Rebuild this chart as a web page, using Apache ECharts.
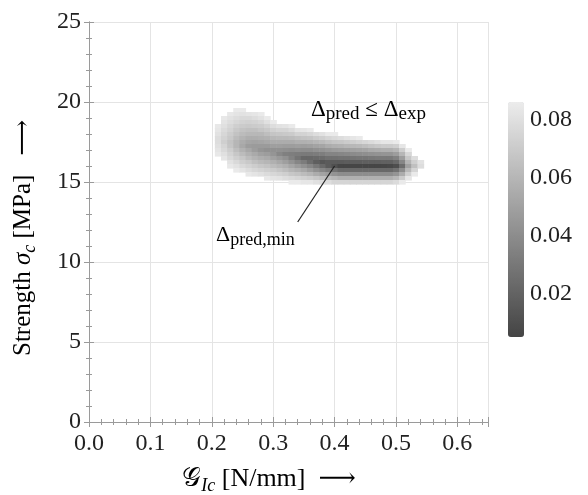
<!DOCTYPE html>
<html>
<head>
<meta charset="utf-8">
<script src="https://cdn.jsdelivr.net/npm/echarts@6/dist/echarts.min.js"></script>
<style>
html, body { margin: 0; padding: 0; background: #fff; }
#main { width: 588px; height: 495px; }
</style>
</head>
<body>
<div id="main"></div>
<script>
var chartDom = document.getElementById('main');
var myChart = echarts.init(chartDom);
var option;

var _ = null;

// grid columns: fracture toughness G_Ic [N/mm]
var toughness = [0.21, 0.22, 0.23, 0.24, 0.25, 0.26, 0.27, 0.28, 0.29, 0.30, 0.31, 0.32,
    0.33, 0.34, 0.35, 0.36, 0.37, 0.38, 0.39, 0.40, 0.41, 0.42, 0.43, 0.44, 0.45, 0.46,
    0.47, 0.48, 0.49, 0.50, 0.51, 0.52, 0.53, 0.54];

// grid rows: strength sigma_c [MPa], top to bottom
var strength = [19.5, 19.25, 19.0, 18.75, 18.5, 18.25, 18.0, 17.75, 17.5, 17.25, 17.0,
    16.75, 16.5, 16.25, 16.0, 15.75, 15.5, 15.25, 15.0];

// Delta_pred for each row (blank where Delta_pred > Delta_exp)
var deltaPred = [
    [_, _, _, .085, .085, _, _, _, _, _, _, _, _, _, _, _, _, _, _, _, _, _, _, _, _, _, _, _, _, _, _, _, _, _],
    [_, _, .084, .082, .081, .082, .083, .085, _, _, _, _, _, _, _, _, _, _, _, _, _, _, _, _, _, _, _, _, _, _, _, _, _, _],
    [_, .084, .081, .079, .077, .077, .079, .081, .085, _, _, _, _, _, _, _, _, _, _, _, _, _, _, _, _, _, _, _, _, _, _, _, _, _],
    [_, .082, .079, .076, .074, .073, .074, .076, .080, .085, _, _, _, _, _, _, _, _, _, _, _, _, _, _, _, _, _, _, _, _, _, _, _, _],
    [.084, .080, .076, .072, .070, .069, .070, .071, .074, .079, .081, .082, .085, _, _, _, _, _, _, _, _, _, _, _, _, _, _, _, _, _, _, _, _, _],
    [.083, .078, .074, .069, .066, .065, .065, .067, .069, .073, .075, .075, .078, .082, .083, .085, _, _, _, _, _, _, _, _, _, _, _, _, _, _, _, _, _, _],
    [.081, .076, .071, .066, .063, .061, .061, .061, .064, .067, .068, .069, .070, .074, .074, .076, .079, .081, .085, .085, _, _, _, _, _, _, _, _, _, _, _, _, _, _],
    [.079, .074, .069, .063, .059, .056, .056, .057, .058, .061, .062, .062, .063, .065, .066, .067, .070, .072, .075, .077, .079, .081, .083, .085, _, _, _, _, _, _, _, _, _, _],
    [.079, .072, .066, .060, .055, .052, .051, .052, .053, .055, .055, .055, .055, .057, .057, .058, .060, .062, .065, .067, .068, .070, .072, .074, .076, .078, .080, .083, .083, .085, _, _, _, _],
    [.080, .075, .067, .060, .053, .048, .047, .047, .047, .049, .049, .048, .048, .049, .048, .049, .051, .052, .055, .057, .058, .060, .061, .062, .064, .066, .068, .070, .070, .072, .083, _, _, _],
    [.082, .077, .071, .064, .058, .053, .048, .044, .042, .042, .042, .041, .040, .041, .040, .040, .042, .043, .045, .047, .048, .049, .050, .051, .052, .054, .055, .057, .057, .060, .071, .085, _, _],
    [.084, .080, .074, .068, .063, .058, .054, .050, .048, .044, .038, .034, .033, .032, .031, .031, .032, .033, .036, .036, .037, .038, .039, .040, .041, .042, .043, .044, .044, .048, .060, .076, _, _],
    [_, .083, .077, .072, .068, .063, .059, .056, .054, .050, .046, .042, .035, .028, .022, .022, .023, .024, .026, .026, .027, .027, .028, .029, .029, .030, .031, .031, .031, .035, .048, .068, .079, _],
    [_, _, .081, .077, .072, .069, .065, .062, .060, .057, .053, .049, .043, .037, .032, .025, .018, .014, .016, .016, .016, .017, .017, .017, .018, .018, .018, .019, .019, .023, .037, .059, .072, .081],
    [_, _, .084, .081, .077, .074, .071, .068, .066, .063, .060, .057, .052, .047, .042, .037, .030, .023, .016, .011, .006, .006, .006, .006, .006, .006, .006, .006, .007, .010, .025, .050, .065, .079],
    [_, _, _, .085, .082, .079, .076, .074, .072, .070, .067, .064, .060, .057, .053, .048, .042, .037, .032, .027, .023, .023, .023, .023, .023, .023, .023, .023, .023, .027, .040, .061, .075, _],
    [_, _, _, _, _, .084, .082, .080, .078, .076, .074, .072, .068, .066, .063, .060, .055, .051, .048, .043, .040, .040, .040, .040, .040, .040, .040, .040, .040, .044, .055, .072, .085, _],
    [_, _, _, _, _, _, _, _, .084, .082, .081, .079, .077, .075, .073, .071, .068, .065, .063, .060, .057, .057, .057, .057, .057, .057, .057, .057, .057, .061, .070, .083, _, _],
    [_, _, _, _, _, _, _, _, _, _, _, _, .085, .085, .083, .083, .080, .079, .079, .075, .075, .075, .075, .075, .075, .075, .075, .075, .075, .078, .085, _, _, _]
];

// colour bar range of Delta_pred
var deltaRange = [0.005, 0.086];

// leader line from the Delta_pred,min label to the minimum
var leaderG = [0.34, 0.40];
var leaderS = [12.5, 16.0];

var cellW = 0.01, cellH = 0.25;

var cells = [];
strength.forEach(function (s, i) {
    toughness.forEach(function (g, j) {
        var v = deltaPred[i][j];
        if (v !== null) cells.push([g, s, v]);
    });
});

var leader = leaderG.map(function (g, k) { return [g, leaderS[k]]; });

var serif = "'Liberation Serif', 'Times New Roman', 'DejaVu Serif', serif";
var ink = '#222';
var frame = '#9a9a9a';

function richSet(size, subSize, lift) {
    var base = { fontFamily: serif, fontSize: size, color: ink, verticalAlign: 'bottom', padding: [0, 0, lift, 0] };
    return {
        r: base,
        i: Object.assign({}, base, { fontStyle: 'italic' }),
        s: { fontFamily: serif, fontSize: subSize, color: ink, verticalAlign: 'bottom' },
        t: { fontFamily: serif, fontSize: subSize, color: ink, fontStyle: 'italic', verticalAlign: 'bottom' }
    };
}

function frameAxis(extra) {
    return Object.assign({
        type: 'value',
        gridIndex: 0,
        axisLine: { lineStyle: { color: frame, width: 1 } },
        axisTick: { inside: true, length: 5, lineStyle: { color: frame } },
        minorTick: { show: true, splitNumber: 5, length: 3, lineStyle: { color: frame } },
        splitLine: { show: false },
        axisLabel: { show: false }
    }, extra);
}

function renderCell(params, api) {
    var g = api.value(0), s = api.value(1);
    var p0 = api.coord([g - cellW / 2, s + cellH / 2]);
    var p1 = api.coord([g + cellW / 2, s - cellH / 2]);
    return {
        type: 'rect',
        shape: { x: p0[0], y: p0[1], width: p1[0] - p0[0] + 0.6, height: p1[1] - p0[1] + 0.6 },
        style: { fill: api.visual('color') }
    };
}

var tickLabel = { fontFamily: serif, fontSize: 24, color: ink };

option = {
    animation: false,
    backgroundColor: '#fff',
    grid: [
        { left: 89, top: 22, width: 399, height: 400 },
        { left: 508, top: 102, width: 16, height: 235 }
    ],
    xAxis: [
        frameAxis({
            position: 'bottom', min: 0, max: 0.65, interval: 0.1,
            splitLine: { show: true, lineStyle: { color: '#e4e4e4' } },
            axisLabel: Object.assign({ show: true, margin: 10, showMaxLabel: false,
                formatter: function (v) { return v.toFixed(1); } }, tickLabel)
        }),
        frameAxis({ position: 'top', min: 0, max: 0.65, interval: 0.1 }),
        { type: 'value', gridIndex: 1, min: 0, max: 1, show: false }
    ],
    yAxis: [
        frameAxis({
            position: 'left', min: 0, max: 25, interval: 5,
            splitLine: { show: true, lineStyle: { color: '#e4e4e4' } },
            axisLabel: Object.assign({ show: true, margin: 8 }, tickLabel)
        }),
        frameAxis({ position: 'right', min: 0, max: 25, interval: 5 }),
        {
            type: 'value', gridIndex: 1, position: 'right',
            min: deltaRange[0], max: deltaRange[1],
            axisLine: { show: false },
            axisTick: { show: true, length: 3, lineStyle: { color: '#777' } },
            splitLine: { show: false },
            axisLabel: Object.assign({ margin: 6, showMinLabel: false, showMaxLabel: false,
                formatter: function (v) { return v.toFixed(2); } }, tickLabel)
        }
    ],
    visualMap: {
        type: 'continuous',
        min: deltaRange[0], max: deltaRange[1],
        dimension: 2,
        seriesIndex: 0,
        calculable: false,
        left: 508, top: 102,
        itemWidth: 16, itemHeight: 235,
        padding: 0,
        inRange: { color: ['#444444', '#ececec'] }
    },
    series: [
        {
            type: 'custom',
            xAxisIndex: 0, yAxisIndex: 0,
            data: cells,
            encode: { x: 0, y: 1 },
            renderItem: renderCell,
            clip: true,
            silent: true,
            z: 2
        },
        {
            type: 'line',
            xAxisIndex: 0, yAxisIndex: 0,
            data: leader,
            symbol: 'none',
            silent: true,
            lineStyle: { color: ink, width: 1.2 },
            z: 5
        }
    ],
    graphic: [
        {
            type: 'text', x: 311, y: 111, z: 10,
            style: { text: '{r|Δ}{s|pred}{r| ≤ Δ}{s|exp}', rich: richSet(23, 19, 3), align: 'left', verticalAlign: 'middle' }
        },
        {
            type: 'text', x: 216, y: 237, z: 10,
            style: { text: '{r|Δ}{s|pred,min}', rich: richSet(22, 18, 3), align: 'left', verticalAlign: 'middle' }
        },
        {
            type: 'text', x: 269, y: 481, z: 10,
            style: { text: '{r|𝒢}{t|Ic}{r| [N/mm]  ⟶}', rich: richSet(26, 18, 3), align: 'center', verticalAlign: 'middle' }
        },
        {
            type: 'text', x: 25, y: 238, rotation: Math.PI / 2, z: 10,
            style: { text: '{r|Strength }{i|σ}{t|c}{r| [MPa]   ⟶}', rich: richSet(25, 18, 3), align: 'center', verticalAlign: 'middle' }
        }
    ]
};

option && myChart.setOption(option);
</script>
</body>
</html>
